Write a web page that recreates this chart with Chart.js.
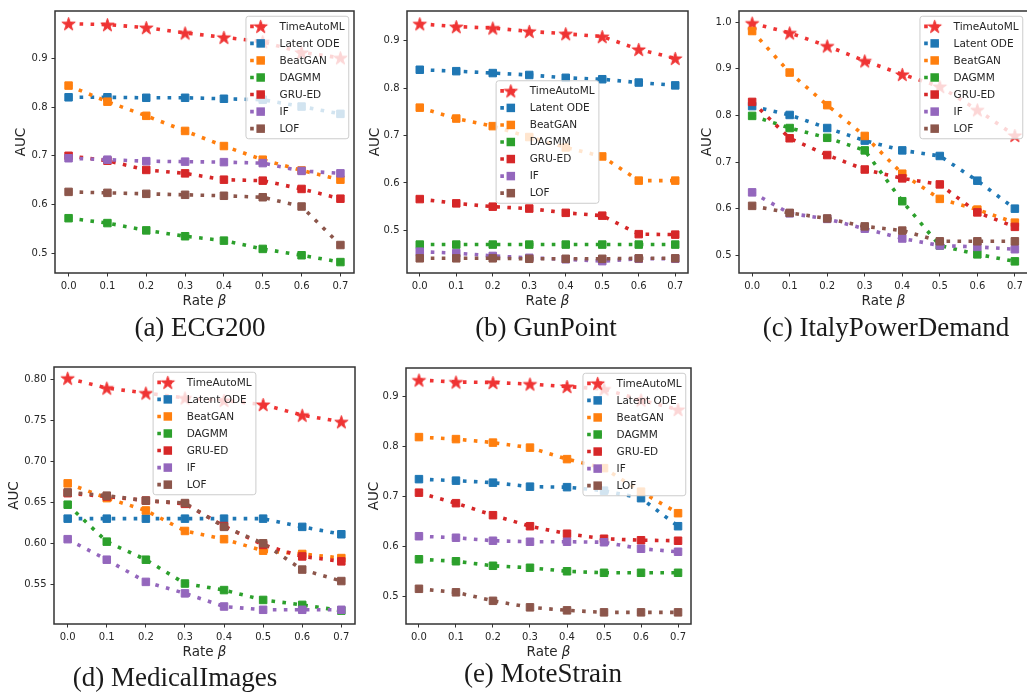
<!DOCTYPE html>
<html>
<head>
<meta charset="utf-8">
<script src="https://cdn.jsdelivr.net/npm/chart.js@4.4.1/dist/chart.umd.min.js"></script>
<style>
html, body { margin:0; padding:0; background:#ffffff; width:1027px; height:693px; overflow:hidden; position:relative; }
.panel { position:absolute; }
.panel canvas { display:block; }
.cap { position:absolute; font-family:'Liberation Serif','Times New Roman',serif; font-size:27px; color:#1a1a1a; white-space:nowrap; transform:translateX(-50%); line-height:27px; }
</style>
</head>
<body>
<script>
// ---------------- data ----------------
const rates = [0.0, 0.1, 0.2, 0.3, 0.4, 0.5, 0.6, 0.7];
const xTicks = [0.0, 0.1, 0.2, 0.3, 0.4, 0.5, 0.6, 0.7];
const methods = ['TimeAutoML', 'Latent ODE', 'BeatGAN', 'DAGMM', 'GRU-ED', 'IF', 'LOF'];

// rows follow the order of `methods`
const aucECG200 = [
  [0.971, 0.969, 0.963, 0.952, 0.943, 0.934, 0.912, 0.901],
  [0.820, 0.820, 0.819, 0.819, 0.817, 0.815, 0.801, 0.786],
  [0.844, 0.811, 0.782, 0.751, 0.720, 0.692, 0.670, 0.651],
  [0.572, 0.562, 0.547, 0.535, 0.526, 0.509, 0.496, 0.482],
  [0.700, 0.690, 0.671, 0.664, 0.651, 0.649, 0.632, 0.612],
  [0.695, 0.692, 0.689, 0.688, 0.687, 0.685, 0.669, 0.664],
  [0.626, 0.624, 0.622, 0.620, 0.618, 0.615, 0.596, 0.517]
];
const aucGunPoint = [
  [0.936, 0.930, 0.927, 0.920, 0.915, 0.909, 0.882, 0.863],
  [0.839, 0.836, 0.832, 0.828, 0.822, 0.819, 0.812, 0.806],
  [0.759, 0.736, 0.720, 0.697, 0.675, 0.656, 0.605, 0.605],
  [0.470, 0.470, 0.470, 0.470, 0.470, 0.470, 0.470, 0.470],
  [0.566, 0.557, 0.550, 0.546, 0.537, 0.531, 0.492, 0.491],
  [0.455, 0.452, 0.446, 0.442, 0.439, 0.435, 0.440, 0.440],
  [0.441, 0.441, 0.441, 0.440, 0.440, 0.440, 0.441, 0.441]
];
const aucItalyPowerDemand = [
  [0.998, 0.977, 0.949, 0.917, 0.888, 0.862, 0.812, 0.757],
  [0.820, 0.801, 0.773, 0.746, 0.725, 0.713, 0.660, 0.600],
  [0.981, 0.892, 0.822, 0.756, 0.675, 0.621, 0.598, 0.570],
  [0.799, 0.773, 0.752, 0.725, 0.616, 0.521, 0.502, 0.487],
  [0.829, 0.751, 0.715, 0.684, 0.665, 0.652, 0.592, 0.561],
  [0.635, 0.590, 0.578, 0.557, 0.536, 0.521, 0.518, 0.513],
  [0.606, 0.591, 0.579, 0.562, 0.553, 0.530, 0.530, 0.530]
];
const aucMedicalImages = [
  [0.801, 0.789, 0.783, 0.777, 0.774, 0.769, 0.756, 0.748],
  [0.630, 0.630, 0.630, 0.630, 0.630, 0.630, 0.620, 0.611],
  [0.673, 0.655, 0.640, 0.615, 0.605, 0.591, 0.587, 0.582],
  [0.647, 0.602, 0.580, 0.551, 0.543, 0.531, 0.525, 0.518],
  [0.661, 0.657, 0.652, 0.648, 0.621, 0.598, 0.584, 0.578],
  [0.605, 0.580, 0.553, 0.539, 0.523, 0.519, 0.519, 0.519],
  [0.662, 0.658, 0.652, 0.649, 0.620, 0.600, 0.568, 0.554]
];
const aucMoteStrain = [
  [0.933, 0.929, 0.928, 0.925, 0.920, 0.915, 0.893, 0.874],
  [0.735, 0.732, 0.728, 0.720, 0.719, 0.712, 0.697, 0.641],
  [0.819, 0.815, 0.808, 0.798, 0.775, 0.757, 0.710, 0.667],
  [0.575, 0.571, 0.562, 0.558, 0.551, 0.548, 0.548, 0.548],
  [0.708, 0.687, 0.663, 0.641, 0.626, 0.616, 0.613, 0.612],
  [0.621, 0.618, 0.612, 0.610, 0.610, 0.609, 0.596, 0.590],
  [0.516, 0.509, 0.492, 0.479, 0.473, 0.469, 0.469, 0.469]
];

const yTicksECG200 = [0.5, 0.6, 0.7, 0.8, 0.9];
const yTicksGunPoint = [0.5, 0.6, 0.7, 0.8, 0.9];
const yTicksItaly = [0.5, 0.6, 0.7, 0.8, 0.9, 1.0];
const yTicksMedical = [0.55, 0.60, 0.65, 0.70, 0.75, 0.80];
const yTicksMote = [0.5, 0.6, 0.7, 0.8, 0.9];

// ---------------- style ----------------
const colors = ['#ef3434', '#1f77b4', '#ff7f0e', '#2ca02c', '#d62728', '#9467bd', '#8c564b'];
const LW = 3.6, DASH = [3.6, 7.4];
const SQ_R = 5.3, STAR_R = 7.0;
const YW = 55, XH = 48, PADT = 6, PADR = 6;
const TICK_FONT = { family: 'DejaVu Sans', size: 10 };
const TEXT_COLOR = '#262626';

function makeStar(color, R) {
  const s = Math.ceil(2 * R + 3);
  const c = document.createElement('canvas');
  c.width = s; c.height = s;
  const g = c.getContext('2d');
  g.fillStyle = color; g.strokeStyle = color; g.lineWidth = 1; g.lineJoin = 'miter';
  const cx = s / 2, cy = s / 2 + R * 0.1, r2 = R * 0.381966;
  g.beginPath();
  for (let k = 0; k < 10; k++) {
    const a = -Math.PI / 2 + k * Math.PI / 5;
    const rr = (k % 2) ? r2 : R;
    g.lineTo(cx + rr * Math.cos(a), cy + rr * Math.sin(a));
  }
  g.closePath(); g.fill(); g.stroke();
  return c;
}
const starImg = makeStar(colors[0], STAR_R);

const panels = [
  { data: aucECG200, yTicks: yTicksECG200, dec: 1, L: 55, T: 7, R: 356, B: 273, yMin: 0.4596, yMax: 0.997, legend: 'upper right', titleDist: 34, caption: '(a) ECG200', capX: 200, capBase: 335 },
  { data: aucGunPoint, yTicks: yTicksGunPoint, dec: 1, L: 407, T: 7, R: 690, B: 273, yMin: 0.410, yMax: 0.963, legend: 'center', titleDist: 32, caption: '(b) GunPoint', capX: 546, capBase: 335 },
  { data: aucItalyPowerDemand, yTicks: yTicksItaly, dec: 1, L: 739, T: 7, R: 1030, B: 273, yMin: 0.462, yMax: 1.024, legend: 'upper right', titleDist: 32, caption: '(c) ItalyPowerDemand', capX: 886, capBase: 335 },
  { data: aucMedicalImages, yTicks: yTicksMedical, dec: 2, L: 54, T: 363, R: 357, B: 624, yMin: 0.5017, yMax: 0.8147, legend: 'upper center', titleDist: 40, caption: '(d) MedicalImages', capX: 175, capBase: 685 },
  { data: aucMoteStrain, yTicks: yTicksMote, dec: 1, L: 406, T: 364, R: 693, B: 624, yMin: 0.4457, yMax: 0.957, legend: 'upper right', titleDist: 32, caption: '(e) MoteStrain', capX: 543, capBase: 681 }
];

// spines + legend + x title drawn on top of the datasets
const decorPlugin = {
  id: 'mplDecor',
  afterDatasetsDraw(chart, args, opts) {
    const ctx = chart.ctx, ca = chart.chartArea;
    ctx.save();
    // spines
    ctx.strokeStyle = '#333333'; ctx.lineWidth = 1.5; ctx.setLineDash([]);
    ctx.strokeRect(ca.left, ca.top, ca.right - ca.left, ca.bottom - ca.top);
    // legend
    const fs = 10.5;
    ctx.font = fs + 'px "DejaVu Sans"';
    const textW = Math.max(...methods.map(m => ctx.measureText(m).width));
    const rowH = 11.8, gap = fs * 0.5, pad = fs * 0.4, hl = fs * 2, htp = fs * 0.8, axPad = fs * 0.5;
    const w = pad + hl + htp + textW + pad;
    const h = pad * 2 + methods.length * rowH + (methods.length - 1) * gap;
    const cxA = (ca.left + ca.right) / 2, cyA = (ca.top + ca.bottom) / 2;
    let x0, y0;
    if (opts.loc === 'upper right') { x0 = ca.right - axPad - w; y0 = ca.top + axPad; }
    else if (opts.loc === 'center') { x0 = cxA - w / 2; y0 = cyA - h / 2; }
    else { x0 = cxA - w / 2; y0 = ca.top + axPad; }
    const rr = fs * 0.25;
    ctx.beginPath();
    ctx.roundRect(x0, y0, w, h, rr);
    ctx.fillStyle = 'rgba(255,255,255,0.8)';
    ctx.fill();
    ctx.strokeStyle = '#cccccc'; ctx.lineWidth = 1;
    ctx.stroke();
    methods.forEach((m, i) => {
      const yc = y0 + pad + rowH / 2 + i * (rowH + gap);
      const hx0 = x0 + pad, hx1 = hx0 + hl, hxc = (hx0 + hx1) / 2;
      ctx.save();
      ctx.strokeStyle = colors[i]; ctx.lineWidth = LW; ctx.setLineDash(DASH); ctx.lineCap = 'butt';
      ctx.beginPath(); ctx.moveTo(hx0, yc); ctx.lineTo(hx1, yc); ctx.stroke();
      ctx.restore();
      if (i === 0) {
        ctx.drawImage(starImg, hxc - starImg.width / 2, yc - starImg.height / 2);
      } else {
        const s = SQ_R * Math.SQRT1_2 + 0.5;
        ctx.fillStyle = colors[i];
        ctx.fillRect(hxc - s, yc - s, 2 * s, 2 * s);
      }
      ctx.fillStyle = TEXT_COLOR;
      ctx.textBaseline = 'middle'; ctx.textAlign = 'left';
      ctx.fillText(m, hx1 + htp, yc + 0.5);
    });
    // x-axis title: "Rate β" with italic beta
    const tf = 13.5;
    const part1 = 'Rate ', part2 = 'β';
    ctx.font = tf + 'px "DejaVu Sans"';
    const w1 = ctx.measureText(part1).width;
    ctx.font = 'italic ' + tf + 'px "DejaVu Sans"';
    const w2 = ctx.measureText(part2).width;
    const tx = cxA - (w1 + w2) / 2, ty = ca.bottom + 28;
    ctx.fillStyle = TEXT_COLOR; ctx.textBaseline = 'middle'; ctx.textAlign = 'left';
    ctx.font = tf + 'px "DejaVu Sans"';
    ctx.fillText(part1, tx, ty);
    ctx.font = 'italic ' + tf + 'px "DejaVu Sans"';
    ctx.fillText(part2, tx + w1, ty);
    ctx.restore();
  }
};

function buildPanel(p) {
  const W = (p.R - p.L) + YW + PADR;
  const H = (p.B - p.T) + PADT + XH;
  const div = document.createElement('div');
  div.className = 'panel';
  div.style.left = (p.L - YW) + 'px';
  div.style.top = (p.T - PADT) + 'px';
  div.style.width = W + 'px';
  div.style.height = H + 'px';
  const cv = document.createElement('canvas');
  cv.width = W; cv.height = H;
  cv.style.width = W + 'px'; cv.style.height = H + 'px';
  div.appendChild(cv);
  document.body.appendChild(div);

  const titleFont = 13.5;
  new Chart(cv, {
    type: 'line',
    data: {
      datasets: methods.map((m, i) => ({
        label: m,
        data: rates.map((r, j) => ({ x: r, y: p.data[i][j] })),
        borderColor: colors[i],
        backgroundColor: colors[i],
        borderWidth: LW,
        borderDash: DASH,
        borderCapStyle: 'butt',
        tension: 0,
        pointStyle: i === 0 ? starImg : 'rect',
        pointRadius: i === 0 ? STAR_R : SQ_R,
        pointBorderWidth: 1,
        pointBorderColor: colors[i],
        pointBackgroundColor: colors[i],
        order: methods.length - i,
        clip: 8
      }))
    },
    options: {
      responsive: false,
      animation: false,
      events: [],
      layout: { padding: { left: 0, top: PADT, right: PADR, bottom: 0 } },
      plugins: { legend: { display: false }, tooltip: { enabled: false }, mplDecor: { loc: p.legend } },
      scales: {
        x: {
          type: 'linear', min: -0.035, max: 0.735,
          afterBuildTicks: s => { s.ticks = xTicks.map(v => ({ value: v })); },
          afterFit: s => { s.height = XH; },
          ticks: { callback: v => Number(v).toFixed(1), font: TICK_FONT, color: TEXT_COLOR, padding: 3.5, maxRotation: 0, autoSkip: false },
          grid: { display: true, drawOnChartArea: false, drawTicks: true, tickLength: 3.5, tickColor: '#333333', tickWidth: 1 },
          border: { display: false }
        },
        y: {
          type: 'linear', min: p.yMin, max: p.yMax,
          afterBuildTicks: s => { s.ticks = p.yTicks.map(v => ({ value: v })); },
          afterFit: s => { s.width = YW; },
          ticks: { callback: v => Number(v).toFixed(p.dec), font: TICK_FONT, color: TEXT_COLOR, padding: 4, autoSkip: false },
          grid: { display: true, drawOnChartArea: false, drawTicks: true, tickLength: 3.5, tickColor: '#333333', tickWidth: 1 },
          border: { display: false },
          title: { display: true, text: 'AUC', color: TEXT_COLOR, font: { family: 'DejaVu Sans', size: titleFont },
                   padding: { top: YW - p.titleDist - titleFont * 1.2 / 2, bottom: 0 } }
        }
      }
    },
    plugins: [decorPlugin]
  });

  const cap = document.createElement('div');
  cap.className = 'cap';
  cap.textContent = p.caption;
  cap.style.left = p.capX + 'px';
  cap.style.top = (p.capBase - 21) + 'px';
  document.body.appendChild(cap);
}

panels.forEach(buildPanel);
</script>
</body>
</html>
